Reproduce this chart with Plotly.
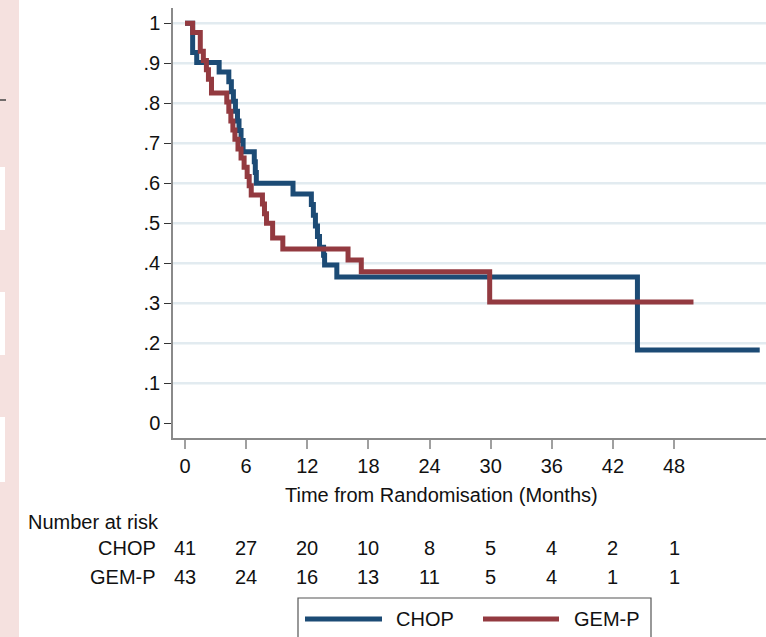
import plotly.graph_objects as go

# Kaplan-Meier step estimates (time in months, survival probability)
chop_time = [0, 0.75, 1.15, 3.35, 4.3, 4.55, 4.75, 4.95, 5.15, 5.3, 5.5, 5.7,
             6.8, 6.9, 7.0, 10.6, 12.4, 12.6, 12.8, 13.0, 13.2, 13.6, 13.7,
             14.9, 44.4, 56.4]
chop_surv = [1.0, 0.927, 0.902, 0.878, 0.854, 0.829, 0.805, 0.780, 0.756, 0.732,
             0.707, 0.679, 0.654, 0.627, 0.600, 0.573, 0.547, 0.520, 0.493,
             0.467, 0.440, 0.420, 0.396, 0.366, 0.183, 0.183]

gemp_time = [0, 0.75, 1.5, 1.8, 2.1, 2.3, 2.6, 4.1, 4.3, 4.5, 4.7, 4.9, 5.2, 5.5,
             5.8, 6.1, 6.3, 6.5, 7.6, 7.8, 8.0, 8.6, 9.6, 16.0, 17.3, 29.9, 49.9]
gemp_surv = [1.0, 0.977, 0.930, 0.907, 0.884, 0.860, 0.826, 0.803, 0.780, 0.756,
             0.733, 0.710, 0.686, 0.663, 0.640, 0.617, 0.594, 0.571, 0.548,
             0.524, 0.500, 0.463, 0.436, 0.408, 0.379, 0.303, 0.303]

# Number at risk table
tick_months = [0, 6, 12, 18, 24, 30, 36, 42, 48]
risk_chop = [41, 27, 20, 10, 8, 5, 4, 2, 1]
risk_gemp = [43, 24, 16, 13, 11, 5, 4, 1, 1]

y_tick_vals = [0, 0.1, 0.2, 0.3, 0.4, 0.5, 0.6, 0.7, 0.8, 0.9, 1.0]
y_tick_text = ["0", ".1", ".2", ".3", ".4", ".5", ".6", ".7", ".8", ".9", "1"]

series_names = ["CHOP", "GEM-P"]
series_colors = ["#1c4b75", "#933a40"]

W, H = 766, 637
L, R, T, B = 173, 0, 8, 199
plot_w = W - L - R
plot_h = H - T - B

FONT = "Liberation Sans, Arial, sans-serif"
FS = 20


def pxx(p):
    return (p - L) / plot_w


def pxy(p):
    return (H - B - p) / plot_h


fig = go.Figure()
for name, t, s, c in [("CHOP", chop_time, chop_surv, series_colors[0]),
                      ("GEM-P", gemp_time, gemp_surv, series_colors[1])]:
    fig.add_trace(go.Scatter(x=t, y=s, mode="lines", name=name,
                             line=dict(color=c, width=5, shape="hv"),
                             showlegend=False))

shapes = []
# horizontal gridlines
for v in y_tick_vals[1:]:
    shapes.append(dict(type="line", xref="paper", yref="y", x0=0, x1=1, y0=v, y1=v,
                       line=dict(color="#e2ebf0", width=2.5), layer="below"))

# left-hand page strip
shapes.append(dict(type="rect", xref="paper", yref="paper", x0=pxx(0), x1=pxx(19),
                   y0=pxy(H), y1=pxy(0), fillcolor="#f5e1df", line=dict(width=0), layer="below"))
for y0, y1 in [(167, 230), (292, 355), (417, 482)]:
    shapes.append(dict(type="rect", xref="paper", yref="paper", x0=pxx(0), x1=pxx(5),
                       y0=pxy(y1), y1=pxy(y0), fillcolor="white", line=dict(width=0), layer="below"))
shapes.append(dict(type="line", xref="paper", yref="paper", x0=pxx(0), x1=pxx(6),
                   y0=pxy(100), y1=pxy(100), line=dict(color="#444", width=1.5)))

# legend box
shapes.append(dict(type="rect", xref="paper", yref="paper", x0=pxx(298), x1=pxx(651),
                   y0=pxy(H + 20), y1=pxy(598), fillcolor="rgba(0,0,0,0)",
                   line=dict(color="#555", width=1.2)))
legend_x = [(305, 382, 394), (483, 559, 572)]
for (x0, x1, tx), name, c in zip(legend_x, series_names, series_colors):
    shapes.append(dict(type="line", xref="paper", yref="paper", x0=pxx(x0), x1=pxx(x1),
                       y0=pxy(619), y1=pxy(619), line=dict(color=c, width=5)))

annotations = []
annotations.append(dict(text="Time from Randomisation (Months)", xref="paper", yref="paper",
                        x=pxx(441), y=pxy(495), showarrow=False, xanchor="center",
                        yanchor="middle", font=dict(family=FONT, size=FS, color="#111")))
annotations.append(dict(text="Number at risk", xref="paper", yref="paper",
                        x=pxx(26), y=pxy(522), showarrow=False, xanchor="left",
                        yanchor="middle", font=dict(family=FONT, size=FS, color="#111")))
for name, row, ypix in [("CHOP", risk_chop, 548), ("GEM-P", risk_gemp, 577)]:
    annotations.append(dict(text=name, xref="paper", yref="paper", x=pxx(158), y=pxy(ypix),
                            showarrow=False, xanchor="right", yanchor="middle",
                            font=dict(family=FONT, size=FS, color="#111")))
    for m, n in zip(tick_months, row):
        annotations.append(dict(text=str(n), xref="x", yref="paper", x=m, y=pxy(ypix),
                                showarrow=False, xanchor="center", yanchor="middle",
                                font=dict(family=FONT, size=FS, color="#111")))
for (x0, x1, tx), name in zip(legend_x, series_names):
    annotations.append(dict(text=name, xref="paper", yref="paper", x=pxx(tx), y=pxy(619),
                            showarrow=False, xanchor="left", yanchor="middle",
                            font=dict(family=FONT, size=FS, color="#111")))

fig.update_layout(
    width=W, height=H,
    margin=dict(l=L, r=R, t=T, b=B, pad=0),
    paper_bgcolor="white", plot_bgcolor="white",
    font=dict(family=FONT, size=FS, color="#111"),
    shapes=shapes, annotations=annotations,
    xaxis=dict(range=[(173 - 185) / 10.19, (766 - 185) / 10.19],
               tickvals=tick_months, ticktext=[str(m) for m in tick_months],
               showgrid=False, zeroline=False, showline=True, linecolor="#8a8a8a",
               linewidth=1.5, ticks="outside", ticklen=9, tickcolor="#a0a0a0",
               tickwidth=1.5, tickfont=dict(family=FONT, size=FS, color="#111")),
    yaxis=dict(range=[(423.3 - 438) / 400, (423.3 - 8) / 400],
               tickvals=y_tick_vals, ticktext=y_tick_text,
               showgrid=False, zeroline=False, showline=True, linecolor="#8a8a8a",
               linewidth=1.5, ticks="outside", ticklen=7, tickcolor="#333",
               tickwidth=1.2, tickfont=dict(family=FONT, size=FS, color="#111")),
)

fig.write_html("out.html")
